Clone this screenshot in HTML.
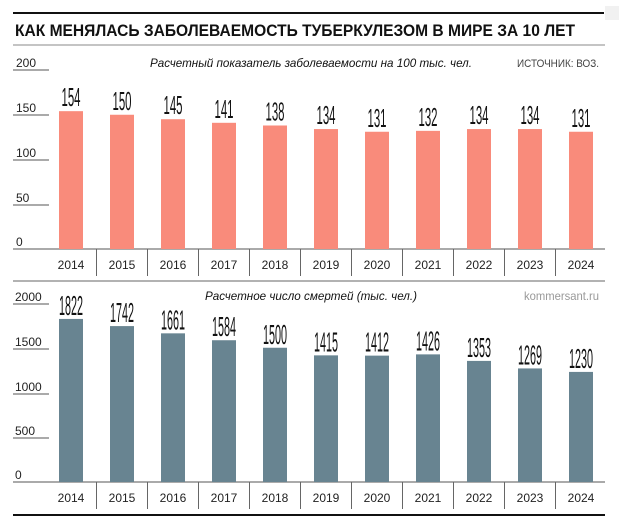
<!DOCTYPE html>
<html><head><meta charset="utf-8"><style>
html,body{margin:0;padding:0;background:#fff;}
svg{display:block;}
text{font-family:"Liberation Sans",sans-serif;}
</style></head><body>
<svg width="624" height="529" viewBox="0 0 624 529" xmlns="http://www.w3.org/2000/svg">
<rect width="624" height="529" fill="#fff"/>
<rect x="605" y="6" width="14" height="14" fill="#f1f1f1"/>
<line x1="13" y1="13" x2="604" y2="13" stroke="#111" stroke-width="2"/>
<text x="15" y="36" font-size="17" font-weight="bold" fill="#111" textLength="560" lengthAdjust="spacingAndGlyphs">КАК МЕНЯЛАСЬ ЗАБОЛЕВАЕМОСТЬ ТУБЕРКУЛЕЗОМ В МИРЕ ЗА 10 ЛЕТ</text>
<line x1="13" y1="45" x2="605" y2="45" stroke="#888" stroke-width="1"/>
<text x="150" y="67" font-size="12" font-style="italic" fill="#111" textLength="322" lengthAdjust="spacingAndGlyphs">Расчетный показатель заболеваемости на 100 тыс. чел.</text>
<text x="517" y="67" font-size="11" fill="#444" textLength="82" lengthAdjust="spacingAndGlyphs">ИСТОЧНИК: ВОЗ.</text>
<g font-size="12" fill="#222">
<text x="16" y="67">200</text><text x="16" y="112">150</text><text x="16" y="157">100</text><text x="16" y="202">50</text><text x="16" y="246">0</text>
</g>
<g stroke="#555" stroke-width="1">
<line x1="13" y1="70" x2="49" y2="70"/><line x1="13" y1="115" x2="49" y2="115"/><line x1="13" y1="160" x2="49" y2="160"/><line x1="13" y1="205" x2="49" y2="205"/>
</g>
<g id="top"></g>
<line x1="13" y1="249" x2="605" y2="249" stroke="#555" stroke-width="1"/>
<line x1="13" y1="281" x2="605" y2="281" stroke="#666" stroke-width="1"/>
<text x="205" y="300" font-size="12" font-style="italic" fill="#111" textLength="212" lengthAdjust="spacingAndGlyphs">Расчетное число смертей (тыс. чел.)</text>
<text x="524" y="300" font-size="12" fill="#999" textLength="75" lengthAdjust="spacingAndGlyphs">kommersant.ru</text>
<g font-size="12" fill="#222">
<text x="15" y="301">2000</text><text x="15" y="346">1500</text><text x="15" y="391">1000</text><text x="15" y="435">500</text><text x="15" y="479">0</text>
</g>
<g stroke="#555" stroke-width="1">
<line x1="13" y1="304" x2="49" y2="304"/><line x1="13" y1="349" x2="49" y2="349"/><line x1="13" y1="394" x2="49" y2="394"/><line x1="13" y1="438" x2="49" y2="438"/>
</g>
<line x1="13" y1="482" x2="605" y2="482" stroke="#555" stroke-width="1"/>
<line x1="13" y1="515" x2="605" y2="515" stroke="#111" stroke-width="2"/>
<g id="bars"></g>
</svg>
<script>
(function(){
var ns="http://www.w3.org/2000/svg",g=document.getElementById("bars");
function el(t,a,txt){var e=document.createElementNS(ns,t);for(var k in a)e.setAttribute(k,a[k]);if(txt!=null)e.textContent=txt;g.appendChild(e);}
var A=[154,150,145,141,138,134,131,132,134,134,131];
var B=[1822,1742,1661,1584,1500,1415,1412,1426,1353,1269,1230];
for(var i=0;i<11;i++){
 var x=59+51*i,cx=x+12;
 var t=249-A[i]*0.895;
 el("rect",{x:x,y:t,width:24,height:249-t,fill:"#f98b7b"});
 el("text",{x:cx-9.5,y:t-5,"font-size":26,fill:"#111",textLength:19,lengthAdjust:"spacingAndGlyphs"},String(A[i]));
 var t2=482-B[i]*0.0895;
 el("rect",{x:x,y:t2,width:24,height:482-t2,fill:"#688491"});
 el("text",{x:cx-12,y:t2-4,"font-size":28,fill:"#111",textLength:24,lengthAdjust:"spacingAndGlyphs"},String(B[i]));
 el("text",{x:cx,y:269,"font-size":12,fill:"#222","text-anchor":"middle"},String(2014+i));
 el("text",{x:cx,y:502,"font-size":12,fill:"#222","text-anchor":"middle"},String(2014+i));
 if(i<10){var sx=96.5+51*i;
  el("line",{x1:sx,y1:249,x2:sx,y2:276,stroke:"#666","stroke-width":1});
  el("line",{x1:sx,y1:482,x2:sx,y2:509,stroke:"#666","stroke-width":1});}
}
})();
</script>
</body></html>
